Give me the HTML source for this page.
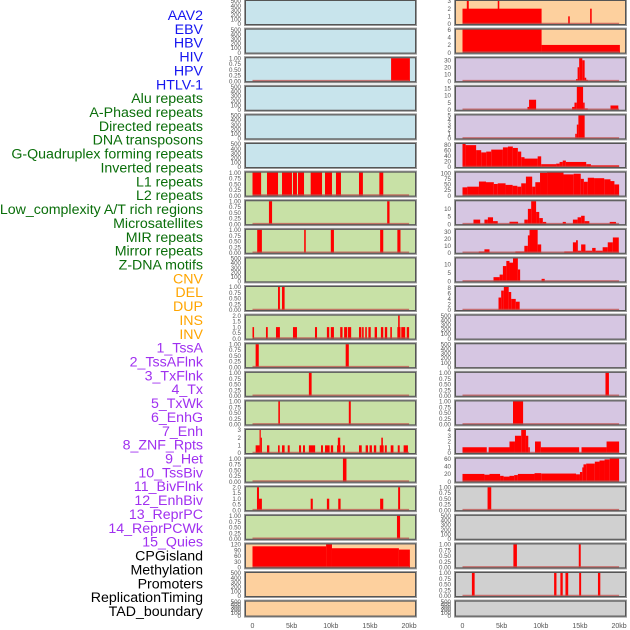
<!DOCTYPE html>
<html><head><meta charset="utf-8"><style>
html,body{margin:0;padding:0;background:#fff;}
svg{display:block;font-family:"Liberation Sans",sans-serif;}
</style></head><body>
<svg id="chart" width="630" height="630" viewBox="0 0 630 630" xmlns="http://www.w3.org/2000/svg">
<g id="labels"></g>
<g id="panels"></g>
</svg>
<script>
const trackLabels = ["AAV2","EBV","HBV","HIV","HPV","HTLV-1","Alu repeats","A-Phased repeats","Directed repeats","DNA transposons","G-Quadruplex forming repeats","Inverted repeats","L1 repeats","L2 repeats","Low_complexity A/T rich regions","Microsatellites","MIR repeats","Mirror repeats","Z-DNA motifs","CNV","DEL","DUP","INS","INV","1_TssA","2_TssAFlnk","3_TxFlnk","4_Tx","5_TxWk","6_EnhG","7_Enh","8_ZNF_Rpts","9_Het","10_TssBiv","11_BivFlnk","12_EnhBiv","13_ReprPC","14_ReprPCWk","15_Quies","CPGisland","Methylation","Promoters","ReplicationTiming","TAD_boundary"];
const labelColors = ["#1515f0","#1515f0","#1515f0","#1515f0","#1515f0","#1515f0","#0a6e0a","#0a6e0a","#0a6e0a","#0a6e0a","#0a6e0a","#0a6e0a","#0a6e0a","#0a6e0a","#0a6e0a","#0a6e0a","#0a6e0a","#0a6e0a","#0a6e0a","#ffa500","#ffa500","#ffa500","#ffa500","#ffa500","#a030f0","#a030f0","#a030f0","#a030f0","#a030f0","#a030f0","#a030f0","#a030f0","#a030f0","#a030f0","#a030f0","#a030f0","#a030f0","#a030f0","#a030f0","#000","#000","#000","#000","#000"];

const xTicks = [0,5,10,15,20];
const xTickLabels = ["0","5kb","10kb","15kb","20kb"];

const T500 = [0,100,200,300,400,500];
const T1 = [0,0.25,0.5,0.75,1];
const T2 = [0,0.5,1,1.5,2];

const leftBg = ["#c8e4ec","#c8e4ec","#c8e4ec","#c8e4ec","#c8e4ec","#c8e4ec","#c8e1a6","#c8e1a6","#c8e1a6","#c8e1a6","#c8e1a6","#c8e1a6","#c8e1a6","#c8e1a6","#c8e1a6","#c8e1a6","#c8e1a6","#c8e1a6","#c8e1a6","#fdd09e","#fdd09e","#fdd09e"];
const rightBg = ["#fdd09e","#fdd09e","#d6c6e2","#d6c6e2","#d6c6e2","#d6c6e2","#d6c6e2","#d6c6e2","#d6c6e2","#d6c6e2","#d6c6e2","#d6c6e2","#d6c6e2","#d6c6e2","#d6c6e2","#d6c6e2","#d6c6e2","#d0d0d0","#d0d0d0","#d0d0d0","#d0d0d0","#d0d0d0"];

const leftTicks = [T500,T500,T1,T500,T500,T500,T1,T1,T1,T500,T1,T2,T1,T1,T1,[0,1,2,3],T1,T2,T1,[0,30,60,90,120],T500,T500];
const leftMax = [500,500,1,500,500,500,1,1,1,500,1,2,1,1,1,3,1,2,1,120,500,500];
const rightTicks = [[0,1,2,3],[0,2,4,6],[0,10,20,30],[0,5,10,15],[0,1,2,3,4,5],[0,20,40,60,80],[0,25,50,75,100],[0,5,10],[0,10,20,30],[0,5,10],[0,2,4,6,8],T500,T500,T1,T1,[0,1,2,3,4],[0,20,40,60],T1,T500,T1,T1,T500];
const rightMax = [3,6,33,16,5,82,103,15,33,13.5,8.3,500,500,1,1,4,60,1,500,1,1,500];
const leftHasData = [0,0,1,0,0,0,1,1,1,0,1,1,1,1,1,1,1,1,1,1,0,0];
const rightHasData = [1,1,1,1,1,1,1,1,1,1,1,0,0,1,1,1,1,1,0,1,1,0];

// segments [startKb, endKb, value]
const leftSegs = [
 [],[],
 [[17.7,20.1,1]],
 [],[],[],
 [[0,1.1,1],[1.85,3.26,1],[3.77,5.04,1],[5.17,5.68,1],[5.81,6.58,1],[7.43,8.88,1],[9.26,10.15,1],[10.66,11.3,1],[13.6,14.1,1],[16.2,16.7,1]],
 [[2.1,2.5,1],[17.2,17.5,1]],
 [[0.6,1.2,1],[6.6,6.8,1],[10.0,10.4,1],[16.3,16.7,1],[18.5,18.9,1]],
 [],
 [[3.26,3.5,1],[3.77,4.1,1]],
 [[0,0.2,1],[1.72,1.95,1],[3.0,3.5,1],[5.17,5.68,1],[7.98,8.24,1],[9.5,9.8,1],[10.0,10.4,1],[11.2,11.5,1],[11.7,12.1,1],[12.2,12.6,1],[13.6,13.9,1],[14.0,14.2,1],[14.4,14.6,1],[14.8,15.1,1],[15.6,15.9,1],[16.4,16.7,1],[16.9,17.2,1],[17.6,17.8,1],[18.5,18.9,1],[18.6,18.8,2],[19.0,19.5,1],[19.7,20.0,1]],
 [[0.4,0.8,1],[11.9,12.3,1]],
 [[7.2,7.55,1]],
 [[3.3,3.5,1],[12.3,12.55,1]],
 [[0.4,0.9,1],[0.9,1.05,3],[1.05,1.2,2],[1.85,2.15,1],[3.26,3.47,1],[3.77,4.1,1],[4.5,4.75,1],[5.94,6.2,1],[6.45,6.7,1],[7.2,8.0,1],[8.75,9.0,1],[9.26,9.85,1],[10.0,10.3,1],[10.8,11.25,1],[10.9,11.2,2],[11.55,11.8,1],[13.6,13.95,1],[14.45,14.75,1],[14.95,15.25,1],[15.5,15.8,1],[16.25,16.75,1],[16.45,16.65,2],[16.9,17.15,1],[17.65,18.0,1],[18.55,18.8,1],[19.3,19.85,1]],
 [[11.55,12.0,1]],
 [[0.57,0.83,2],[0.83,1.2,1],[7.43,7.7,1],[9.5,9.8,1],[10.95,11.25,1],[16.3,16.7,1],[18.6,18.85,2]],
 [[18.45,18.85,1]],
 [[0,9.4,110],[9.4,10.15,120],[10.15,18.7,100],[18.7,20.1,93]],
 [],[]
];
const rightSegs = [
 [[0,10.1,2],[0.55,0.8,3],[4.5,4.7,3],[13.5,13.7,1],[16.3,16.5,2]],
 [[0,10.1,6],[10.1,20.1,2]],
 [[14.5,14.7,3],[14.7,14.9,20],[14.9,15.3,33],[15.3,15.6,30],[15.6,15.8,5],[15.8,16.0,2]],
 [[8.3,8.5,2],[8.5,9.4,7],[14.0,14.3,2],[14.3,14.6,5],[14.6,15.4,16],[15.4,15.6,5],[15.6,16.0,1],[18.9,19.9,3]],
 [[14.4,14.6,1],[14.6,14.8,3],[14.8,15.6,5]],
 [[0,0.4,82],[0.4,1.74,78],[1.74,2.39,60],[2.39,3.03,52],[3.03,3.67,55],[3.67,5.16,62],[5.16,5.8,70],[5.8,6.43,73],[6.43,7.07,68],[7.07,7.5,55],[7.5,7.92,35],[7.92,9.6,30],[9.6,10.05,38],[10.05,11.96,10],[11.96,12.4,12],[12.4,12.8,18],[12.8,13.2,23],[13.2,15.8,18],[15.8,16.4,10],[16.4,20.0,6]],
 [[0,0.6,37],[0.6,2.1,40],[2.1,3.0,63],[3.0,4.0,60],[4.0,4.5,52],[4.5,5.5,55],[5.5,6.4,48],[6.4,7.0,44],[7.0,7.5,40],[7.5,8.1,55],[8.1,8.9,85],[8.9,9.3,40],[9.3,9.9,60],[9.9,10.8,102],[10.8,12.9,103],[12.9,14.2,95],[14.2,15.1,98],[15.1,15.5,75],[15.5,16.0,62],[16.0,16.8,80],[16.8,18.1,78],[18.1,18.9,73],[18.9,19.4,65],[19.4,20.0,50]],
 [[1.4,2.26,3],[2.8,3.24,3],[3.24,3.9,4.5],[3.9,4.5,2],[6.0,7.1,1.6],[7.9,8.35,3],[8.35,8.77,10],[8.77,9.4,15],[9.4,9.8,8],[9.8,10.26,4],[10.26,10.69,1.5],[12.8,13.2,1.5],[14.1,14.7,3],[14.7,15.15,4.5],[15.15,15.6,5.5],[15.6,16.2,2],[18.8,19.6,1.5]],
 [[2.08,2.8,2],[2.8,3.45,5],[6.75,7.9,2],[7.9,8.35,10],[8.35,8.56,25],[8.56,9.6,33],[9.6,10.05,12],[13.0,14.1,2],[14.1,14.5,15],[14.5,14.73,18],[14.73,15.15,3],[15.15,15.7,12],[15.7,16.56,3],[16.56,17.0,7],[17.0,17.9,3],[17.9,18.55,8],[18.55,19.2,15],[19.2,19.96,22]],
 [[3.96,4.74,2.5],[4.74,5.16,4],[5.16,5.6,9],[5.6,6.0,12],[6.0,6.45,11],[6.45,7.07,13.5],[7.07,7.36,7],[10.1,10.5,1.5]],
 [[4.6,4.94,4.5],[4.94,5.28,7],[5.28,5.9,8.3],[5.9,6.22,6.5],[6.22,6.8,4],[6.8,7.3,3]],
 [],[],
 [[18.26,18.7,1]],
 [[6.45,7.74,1]],
 [[0,3.1,1],[3.34,6.0,1],[6.0,6.7,2],[6.7,7.5,3],[7.5,8.1,4],[8.1,8.4,3],[8.4,8.6,1],[9.26,10.0,2],[10.0,14.9,1],[15.2,18.4,1],[18.4,20.0,2]],
 [[0,2.8,20],[2.8,3.45,18],[3.45,4.8,20],[4.8,5.25,15],[5.25,6.0,13],[6.0,6.6,15],[6.6,7.07,17],[7.07,9.2,20],[9.2,10.05,22],[10.05,14.5,21],[14.5,15.0,19],[15.0,15.3,25],[15.3,15.45,37],[15.45,15.8,45],[15.8,16.9,47],[16.9,17.5,52],[17.5,18.14,55],[18.14,18.8,58],[18.8,20.0,60]],
 [[3.2,3.67,1]],
 [],
 [[6.5,6.95,1],[14.85,15.1,1]],
 [[1.2,1.55,1],[11.7,12.0,1],[12.5,12.8,1],[13.15,13.5,1],[14.9,15.15,1],[17.3,17.6,1]],
 []
];

const NS = "http://www.w3.org/2000/svg";
function mk(tag, attrs, parent){ const e=document.createElementNS(NS,tag); for(const k in attrs) e.setAttribute(k,attrs[k]); parent.appendChild(e); return e; }

// labels
const lg = document.getElementById('labels');
trackLabels.forEach((t,i)=>{
  const el = mk('text',{x:203,y:15+i*13.86+5,'text-anchor':'end','font-size':14.2,fill:labelColors[i]},lg);
  
  
  el.textContent = t;
});

const pg = document.getElementById('panels');
const PX_PER_KB = 7.83;
function tickText(v, ticks){
  const mx = ticks[ticks.length-1];
  if (mx===1) return v.toFixed(2);
  if (mx===2) return v.toFixed(1);
  return String(v);
}
function drawPanel(col, i){
  const left = col===0 ? 245 : 455;
  const x0 = left + 7.5;
  const top = i*28.6;
  const h = i===21 ? 16 : 25;
  const w = 171;
  const bg = col===0 ? leftBg[i] : rightBg[i];
  const segs = col===0 ? leftSegs[i] : rightSegs[i];
  const ticks = col===0 ? leftTicks[i] : rightTicks[i];
  const ymax = col===0 ? leftMax[i] : rightMax[i];
  const hasData = col===0 ? leftHasData[i] : rightHasData[i];
  const xs = kb => x0 + kb*PX_PER_KB;
  const ys = v => top + h - 1 - (v/ymax)*(h-2);
  const g = mk('g',{},pg);
  
  
  mk('rect',{x:left,y:top,width:w,height:h,fill:bg,stroke:'#999','stroke-width':2},g);
  segs.forEach(s=>{
    const xa=xs(s[0]), xb=xs(s[1]);
    const r = mk('rect',{x:xa,y:ys(s[2]),width:Math.max(1.2,xb-xa),height:ys(0)-ys(s[2]),fill:'#ff0000'},g);
    
    
  });
  if (hasData) mk('line',{x1:xs(0),x2:xs(20),y1:top+h-1.5,y2:top+h-1.5,stroke:'#c0504d','stroke-width':1.6,'stroke-opacity':0.75},g);
  mk('rect',{x:left+0.5,y:top+0.5,width:w-1,height:h-1,fill:'none',stroke:'#555','stroke-width':1},g);
  ticks.forEach(v=>{
    const tl = mk('text',{x:left-4,y:ys(v)+2.2,'text-anchor':'end','font-size':6.2,fill:'#555'},g);
    
    
    tl.textContent = tickText(v, ticks);
  });
  if (i===21){
    xTicks.forEach((k,j)=>{
      const xt = mk('text',{x:xs(k),y:628,'text-anchor':'middle','font-size':7,fill:'#555'},g);
      
      
      xt.textContent = xTickLabels[j];
    });
  }
}
for (let i=0;i<22;i++){ drawPanel(0,i); drawPanel(1,i); }
</script>
</body></html>
